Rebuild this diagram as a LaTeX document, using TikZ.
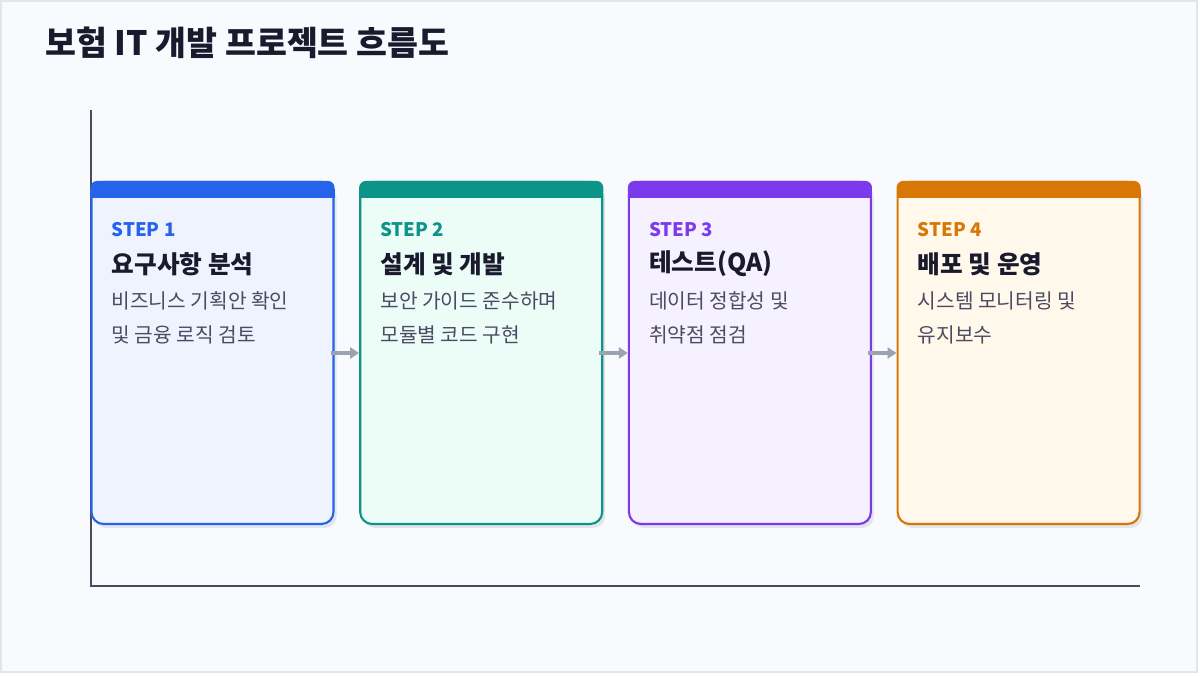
\documentclass[tikz,border=0pt]{standalone}
\usepackage{fontspec}
\setmainfont{Noto Sans CJK KR}
\usepackage{tikz}
\usetikzlibrary{arrows.meta, calc, shadows}

\definecolor{pagebg}{HTML}{F8FAFD}
\definecolor{frameline}{HTML}{E2E5EA}
\definecolor{inktitle}{HTML}{1A1A2E}
\definecolor{inkdesc}{HTML}{4B4B63}
\definecolor{axisgray}{HTML}{4A4A5E}
\definecolor{arrowgray}{HTML}{9AA3AF}
\definecolor{shadowgray}{HTML}{E2E5EA}
\definecolor{cblue}{HTML}{2563EB}   \definecolor{fblue}{HTML}{EEF3FE}
\definecolor{cteal}{HTML}{0D9488}   \definecolor{fteal}{HTML}{ECFDF8}
\definecolor{cpurple}{HTML}{7C3AED} \definecolor{fpurple}{HTML}{F5F1FE}
\definecolor{corange}{HTML}{D97706} \definecolor{forange}{HTML}{FFF8EB}

\tikzset{
  stepbox/.style={draw=c#1, fill=f#1, line width=1.6pt, rounded corners=9pt,
    minimum width=181.5pt, minimum height=256.5pt, inner sep=0pt,
    general shadow={fill=shadowgray, shadow xshift=2.25pt, shadow yshift=-3pt}},
  steplabel/.style={anchor=west, inner sep=0pt, font=\fontsize{14}{16}\selectfont\bfseries},
  steptitle/.style={anchor=west, inner sep=0pt, text=inktitle, font=\fontsize{18.5}{22}\selectfont\bfseries},
  stepdesc/.style={anchor=west, inner sep=0pt, text=inkdesc, font=\fontsize{15.2}{18}\selectfont},
  flowarrow/.style={draw=arrowgray, line width=2.6pt, -{Triangle[length=6.75pt,width=8.25pt]}},
  axisline/.style={draw=axisgray, line width=1.5pt}
}

\begin{document}
\begin{tikzpicture}[x=0.75pt, y=-0.75pt]
\useasboundingbox (0,0) rectangle (1200,675);
\fill[white] (0,0) rectangle (1200,675);
\draw[frameline, fill=pagebg, line width=1.5pt] (1,1) rectangle (1197,672);

\node[anchor=west, inner sep=0pt, text=inktitle, font=\fontsize{25.2}{30}\selectfont\bfseries] (title) at (45,43) {보험 IT 개발 프로젝트 흐름도};

% axes
\draw[axisline] (91,110) -- (91,586) -- (1140,586);

\foreach \i/\c/\ti/\da/\db in {1/blue/요구사항 분석/비즈니스 기획안 확인/및 금융 로직 검토,
                               2/teal/설계 및 개발/보안 가이드 준수하며/모듈별 코드 구현,
                               3/purple/테스트(QA)/데이터 정합성 및/취약점 점검,
                               4/orange/배포 및 운영/시스템 모니터링 및/유지보수}
{
  \node[stepbox=\c] (s\i) at (212.5+268.7*\i-268.7,353) {};
  \fill[c\c, rounded corners=5pt] (s\i.north west) rectangle ($(s\i.north east)+(0,17)$);
  \fill[c\c] ($(s\i.north west)+(0,8)$) rectangle ($(s\i.north east)+(0,17)$);
  \node[steplabel, text=c\c] (l\i) at ($(s\i.north west)+(21,49)$) {STEP \i};
  \node[steptitle] (t\i) at ($(s\i.north west)+(21,83)$) {\ti};
  \node[stepdesc] (da\i) at ($(s\i.north west)+(21,120)$) {\da};
  \node[stepdesc] (db\i) at ($(s\i.north west)+(21,154)$) {\db};
}

\foreach \i/\j in {1/2,2/3,3/4}
  \draw[flowarrow] ($(s\i.east)+(-4,0)$) -- (s\j.west);
\end{tikzpicture}
\end{document}
